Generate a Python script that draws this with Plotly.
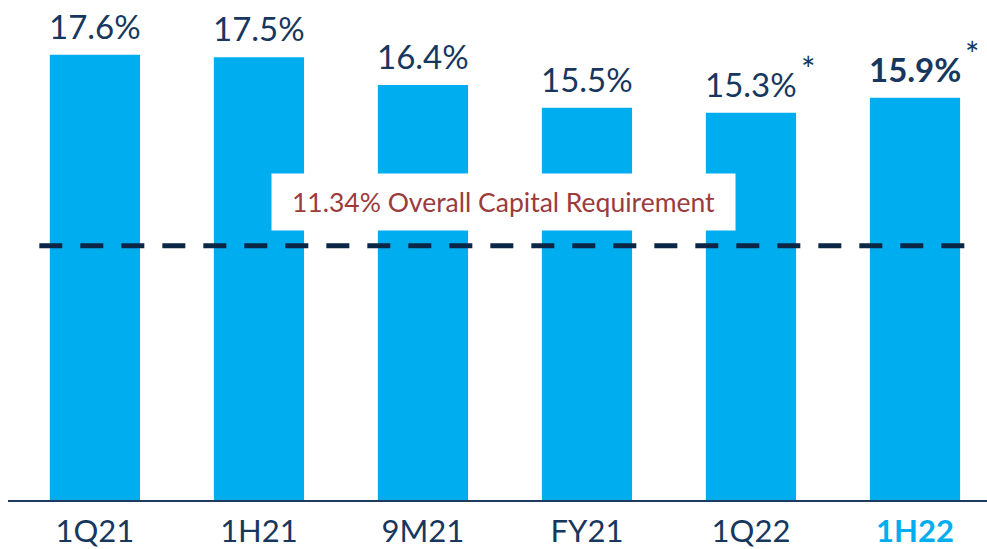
import plotly.graph_objects as go

categories = ["1Q21", "1H21", "9M21", "FY21", "1Q22", "1H22"]
values = [17.6, 17.5, 16.4, 15.5, 15.3, 15.9]
value_labels = ["17.6%", "17.5%", "16.4%", "15.5%", "15.3%", "15.9%"]
asterisk_flags = [False, False, False, False, True, True]
highlight = [False, False, False, False, False, True]
ref_label = "11.34% Overall Capital Requirement"
ref_line_level = 10.05  # visual position of the dashed line in the picture

BAR = "#00AEEF"
NAVY = "#17375E"
FONT = "Lato"

fig = go.Figure()
fig.add_trace(go.Bar(
    x=list(range(len(categories))), y=values,
    marker=dict(color=BAR, line=dict(width=0)),
    width=0.55, hoverinfo="skip",
))

ticktext = [
    (f"<b><span style='color:{BAR}'>{c}</span></b>" if h else c)
    for c, h in zip(categories, highlight)
]

annotations = []
for i, (v, lab, star, h) in enumerate(zip(values, value_labels, asterisk_flags, highlight)):
    annotations.append(dict(
        x=i, y=v, xref="x", yref="y", text=(f"<b>{lab}</b>" if h else lab),
        showarrow=False, yanchor="bottom", yshift=7,
        font=dict(family=FONT, size=33, color=NAVY),
    ))
    if star:
        annotations.append(dict(
            x=i, y=v, xref="x", yref="y", text="*",
            showarrow=False, yanchor="middle", xshift=57, yshift=44,
            font=dict(family=FONT, size=34, color=NAVY),
        ))

annotations.append(dict(
    x=2.49, y=ref_line_level, xref="x", yref="y", text=ref_label,
    showarrow=False, yanchor="middle", yshift=44,
    width=455, height=48, bgcolor="white", borderpad=4,
    font=dict(family=FONT, size=26.5, color="#9B3B3B"),
))

fig.add_shape(
    type="line", xref="paper", yref="y",
    x0=0.032, x1=0.988, y0=ref_line_level, y1=ref_line_level,
    line=dict(color="#0B2747", width=5, dash="23px,18px"),
    layer="above",
)

fig.update_layout(
    width=987, height=549,
    margin=dict(l=8, r=0, t=0, b=49),
    paper_bgcolor="white", plot_bgcolor="white",
    showlegend=False,
    annotations=annotations,
    xaxis=dict(
        tickmode="array", tickvals=list(range(len(categories))), ticktext=ticktext,
        range=[-0.53, 5.439], showgrid=False, zeroline=False,
        showline=True, linecolor="#1F3A60", linewidth=2,
        ticks="", ticklabelstandoff=3, automargin=False,
        tickfont=dict(family=FONT, size=31, color=NAVY),
    ),
    yaxis=dict(range=[0, 19.76], visible=False, showgrid=False, zeroline=False,
               automargin=False),
)

fig.write_html(
    "out.html",
    config={"displayModeBar": False},
    post_script="document.body.style.margin='0';document.body.style.overflow='hidden';",
)
